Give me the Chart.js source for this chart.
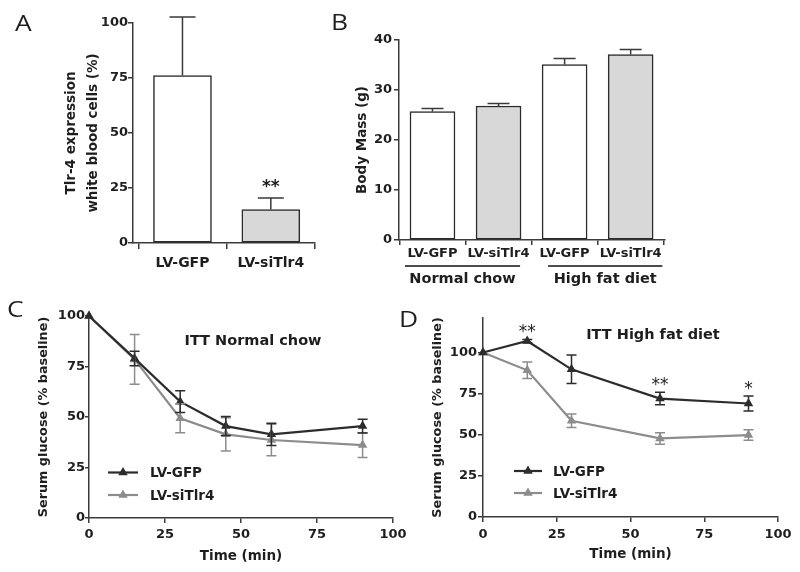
<!DOCTYPE html>
<html>
<head>
<meta charset="utf-8">
<script src="https://cdn.jsdelivr.net/npm/chart.js@4.4.1/dist/chart.umd.min.js"></script>
<style>
  html, body { margin: 0; padding: 0; background: #fff; }
  #wrap { position: relative; width: 800px; height: 572px; background: #fff; overflow: hidden; }
  #wrap canvas { position: absolute; left: 0; top: 0; }
</style>
</head>
<body>
<div id="wrap">
  <canvas id="cA" width="800" height="572"></canvas>
  <canvas id="cB" width="800" height="572"></canvas>
  <canvas id="cC" width="800" height="572"></canvas>
  <canvas id="cD" width="800" height="572"></canvas>
</div>
<script>
// ---------------- DATA ----------------
const aCategories = ['LV-GFP', 'LV-siTlr4'];
const aValues = [76.1, 15.2];
const aErrors = [26.6, 5.3];
const aSig = ['', '**'];

const bCategories = ['LV-GFP', 'LV-siTlr4', 'LV-GFP', 'LV-siTlr4'];
const bGroups = ['Normal chow', 'High fat diet'];
const bValues = [25.7, 26.8, 35.1, 37.1];
const bErrors = [0.6, 0.5, 1.2, 1.0];

const seriesNames = ['LV-GFP', 'LV-siTlr4'];

const cTimes = [0, 15, 30, 45, 60, 90];
const cGFP = [100, 79, 57.6, 45.5, 41.4, 45.5];
const cGFPErr = [0, 3.6, 5.4, 4.7, 5.5, 3.4];
const cSi = [100, 78.5, 49.4, 41.4, 38.6, 36.1];
const cSiErr = [0, 12.3, 7.2, 8.2, 7.8, 6.1];

const dTimes = [0, 15, 30, 60, 90];
const dGFP = [100, 107, 89.8, 72, 69];
const dGFPErr = [0, 1, 8.7, 3.8, 4.6];
const dSi = [100, 89.2, 58.5, 47.8, 49.8];
const dSiErr = [0, 5, 4.1, 3.5, 3.2];
const dSig = ['', '**', '', '**', '*'];

// ---------------- STYLE ----------------
const AX = '#3a3a3a';
const DARK = '#2c2c2c';
const GRAY = '#8c8c8c';
const FONT = 'DejaVu Sans';
const TXT = '#1e1e1e';

function fitY(width) {
  return s => { s.width = width; s.paddingTop = 0; s.paddingBottom = 0; s.paddingLeft = 0; s.paddingRight = 0; };
}
function fitX(height) {
  return s => { s.height = height; s.paddingTop = 0; s.paddingBottom = 0; s.paddingLeft = 0; s.paddingRight = 0; };
}
function axisStyle(tickLen) {
  return {
    grid: { display: true, drawOnChartArea: false, drawTicks: true, tickLength: tickLen, color: AX, lineWidth: 1.5 },
    border: { display: true, color: AX, width: 1.5 }
  };
}
function tickFont(size) { return { family: FONT, size: size, weight: 'bold' }; }

// ---------------- PLUGINS ----------------
function errorBars(sets) {
  return {
    id: 'errbars',
    afterDatasetsDraw(chart) {
      const ctx = chart.ctx, ys = chart.scales.y;
      sets.forEach(set => {
        const meta = chart.getDatasetMeta(set.dataset);
        const vals = chart.data.datasets[set.dataset].data;
        ctx.save();
        ctx.strokeStyle = set.color; ctx.lineWidth = set.width || 1.5;
        meta.data.forEach((el, i) => {
          const e = set.errors[i];
          if (!e) return;
          const v = vals[i].y;
          const top = ys.getPixelForValue(v + e);
          const bot = set.mode === 'up' ? ys.getPixelForValue(v) : ys.getPixelForValue(v - e);
          const x = el.x, c = set.cap / 2;
          ctx.beginPath();
          ctx.moveTo(x, bot); ctx.lineTo(x, top);
          ctx.moveTo(x - c, top); ctx.lineTo(x + c, top);
          if (set.mode !== 'up') { ctx.moveTo(x - c, bot); ctx.lineTo(x + c, bot); }
          ctx.stroke();
        });
        ctx.restore();
      });
    }
  };
}
function stars(dsIndex, sig, errors, font, gap) {
  return {
    id: 'stars',
    afterDatasetsDraw(chart) {
      const ctx = chart.ctx, ys = chart.scales.y;
      const meta = chart.getDatasetMeta(dsIndex);
      const vals = chart.data.datasets[dsIndex].data;
      ctx.save();
      ctx.fillStyle = TXT; ctx.font = font; ctx.textAlign = 'center'; ctx.textBaseline = 'alphabetic';
      meta.data.forEach((el, i) => {
        if (!sig[i]) return;
        const y = ys.getPixelForValue(vals[i].y + (errors[i] || 0)) - gap;
        ctx.fillText(sig[i], el.x, y);
      });
      ctx.restore();
    }
  };
}
function texts(items) {
  return {
    id: 'texts',
    afterDraw(chart) {
      const ctx = chart.ctx;
      items.forEach(it => {
        ctx.save();
        ctx.fillStyle = it.color || TXT;
        ctx.font = it.font;
        ctx.textAlign = it.align || 'left';
        ctx.textBaseline = it.baseline || 'alphabetic';
        ctx.translate(it.x, it.y);
        if (it.sx) ctx.scale(it.sx, 1);
        ctx.fillText(it.text, 0, 0);
        ctx.restore();
      });
    }
  };
}
function triangle(ctx, x, y, r) {
  let rad = 0;
  ctx.beginPath();
  ctx.moveTo(x + Math.sin(rad) * r, y - Math.cos(rad) * r);
  rad += Math.PI * 2 / 3;
  ctx.lineTo(x + Math.sin(rad) * r, y - Math.cos(rad) * r);
  rad += Math.PI * 2 / 3;
  ctx.lineTo(x + Math.sin(rad) * r, y - Math.cos(rad) * r);
  ctx.closePath();
  ctx.fill();
}
function lineLegend(cfg) {
  return {
    id: 'lineLegend',
    afterDraw(chart) {
      const ctx = chart.ctx;
      chart.data.datasets.forEach((ds, i) => {
        const y = cfg.ys[i];
        ctx.save();
        ctx.strokeStyle = ds.borderColor; ctx.fillStyle = ds.borderColor; ctx.lineWidth = 2.2;
        ctx.beginPath(); ctx.moveTo(cfg.x, y); ctx.lineTo(cfg.x + cfg.len, y); ctx.stroke();
        triangle(ctx, cfg.x + cfg.len / 2, y, 5.5);
        ctx.fillStyle = TXT; ctx.font = cfg.font; ctx.textBaseline = 'middle'; ctx.textAlign = 'left';
        ctx.fillText(ds.label, cfg.textX, y + 1);
        ctx.restore();
      });
    }
  };
}
function groupLabels(groups, spans, lineY, textY, font) {
  return {
    id: 'groups',
    afterDraw(chart) {
      const ctx = chart.ctx, xs = chart.scales.x;
      groups.forEach((g, i) => {
        const x0 = xs.getPixelForValue(spans[i][0]);
        const x1 = xs.getPixelForValue(spans[i][1]);
        ctx.save();
        ctx.strokeStyle = '#111'; ctx.lineWidth = 1.5;
        ctx.beginPath(); ctx.moveTo(x0, lineY); ctx.lineTo(x1, lineY); ctx.stroke();
        ctx.fillStyle = TXT; ctx.font = font; ctx.textAlign = 'center'; ctx.textBaseline = 'alphabetic';
        ctx.fillText(g, (x0 + x1) / 2, textY);
        ctx.restore();
      });
    }
  };
}

const baseOpts = {
  responsive: false, animation: false, events: [], devicePixelRatio: 1
};
const noPlug = { legend: { display: false }, tooltip: { enabled: false } };
const letterFont = '22px "Open Sans"';

// ---------------- PANEL A ----------------
new Chart(document.getElementById('cA'), {
  type: 'bar',
  data: {
    datasets: [{
      data: aValues.map((v, i) => ({ x: i, y: v })),
      backgroundColor: ['#ffffff', '#d8d8d8'],
      borderColor: '#2a2a2a', borderWidth: 1.5, borderSkipped: false,
      barThickness: 58
    }]
  },
  options: Object.assign({}, baseOpts, {
    layout: { padding: { left: 0, top: 23, right: 800 - 315, bottom: 0 } },
    plugins: noPlug,
    scales: {
      x: Object.assign({
        type: 'linear', min: -0.56, max: 1.5, offset: false,
        afterBuildTicks: s => { s.ticks = aCategories.map((c, i) => ({ value: i })); },
        ticks: { callback: v => aCategories[v], autoSkip: false, maxRotation: 0, minRotation: 0, font: tickFont(14), color: TXT, padding: 6 },
        afterFit: fitX(572 - 243)
      }, axisStyle(6)),
      y: Object.assign({
        min: 0, max: 100,
        ticks: { stepSize: 25, font: tickFont(13), color: TXT, padding: 0 },
        title: { display: true, text: ['Tlr-4 expression', 'white blood cells (%)'], color: TXT,
                 font: { family: FONT, size: 13.5, weight: 'bold', lineHeight: 1.63 }, padding: { top: 60.7, bottom: 0 } },
        afterFit: fitY(133)
      }, axisStyle(5))
    }
  }),
  plugins: [
    errorBars([{ dataset: 0, errors: aErrors, mode: 'up', color: '#3a3a3a', cap: 26 }]),
    stars(0, aSig, aErrors, 'bold 17px "DejaVu Sans"', 6),
    texts([{ text: 'A', x: 15, y: 31, font: letterFont, sx: 1.2 }])
  ]
});

// ---------------- PANEL B ----------------
new Chart(document.getElementById('cB'), {
  type: 'bar',
  data: {
    datasets: [{
      data: bValues.map((v, i) => ({ x: i, y: v })),
      backgroundColor: ['#ffffff', '#d8d8d8', '#ffffff', '#d8d8d8'],
      borderColor: '#2a2a2a', borderWidth: 1.5, borderSkipped: false,
      barThickness: 45
    }]
  },
  options: Object.assign({}, baseOpts, {
    layout: { padding: { left: 0, top: 40, right: 800 - 665, bottom: 0 } },
    plugins: noPlug,
    scales: {
      x: Object.assign({
        type: 'linear', min: -0.507, max: 3.52, offset: false,
        afterBuildTicks: s => { s.ticks = bCategories.map((c, i) => ({ value: i })); },
        ticks: { callback: v => bCategories[v], autoSkip: false, maxRotation: 0, minRotation: 0, font: tickFont(13), color: TXT, padding: 1 },
        afterFit: fitX(572 - 240)
      }, axisStyle(5)),
      y: Object.assign({
        min: 0, max: 40,
        ticks: { stepSize: 10, font: tickFont(13), color: TXT, padding: 2 },
        title: { display: true, text: 'Body Mass (g)', color: TXT,
                 font: { family: FONT, size: 13.5, weight: 'bold' }, padding: { top: 353.9, bottom: 0 } },
        afterFit: fitY(399)
      }, axisStyle(5))
    }
  }),
  plugins: [
    errorBars([{ dataset: 0, errors: bErrors, mode: 'up', color: '#3a3a3a', cap: 22 }]),
    groupLabels(bGroups, [[-0.417, 1.326], [1.75, 3.48]], 266, 283, 'bold 14.5px "DejaVu Sans"'),
    texts([{ text: 'B', x: 331, y: 30, font: letterFont, sx: 1.2 }])
  ]
});

// ---------------- LINE PANELS ----------------
function lineDatasets(times, gfp, si) {
  return [
    { label: seriesNames[0], data: times.map((t, i) => ({ x: t, y: gfp[i] })), borderColor: DARK, backgroundColor: DARK,
      borderWidth: 2.2, pointStyle: 'triangle', pointRadius: 5.5, pointBorderWidth: 0, tension: 0, clip: false },
    { label: seriesNames[1], data: times.map((t, i) => ({ x: t, y: si[i] })), borderColor: GRAY, backgroundColor: GRAY,
      borderWidth: 2.2, pointStyle: 'triangle', pointRadius: 5.5, pointBorderWidth: 0, tension: 0, clip: false }
  ];
}

// ---------------- PANEL C ----------------
new Chart(document.getElementById('cC'), {
  type: 'line',
  data: { datasets: lineDatasets(cTimes, cGFP, cSi) },
  options: Object.assign({}, baseOpts, {
    layout: { padding: { left: 0, top: 316, right: 800 - 393, bottom: 0 } },
    plugins: noPlug,
    scales: {
      x: Object.assign({
        type: 'linear', min: 0, max: 100,
        ticks: { stepSize: 25, font: tickFont(13), color: TXT, padding: 4, maxRotation: 0 },
        title: { display: true, text: 'Time (min)', color: TXT, font: { family: FONT, size: 13.5, weight: 'bold' }, padding: { top: 0, bottom: 7.9 } },
        afterFit: fitX(572 - 518)
      }, axisStyle(5)),
      y: Object.assign({
        min: 0, max: 100,
        ticks: { stepSize: 25, font: tickFont(13), color: TXT, padding: 0 },
        title: { display: true, text: 'Serum glucose (% baseline)', color: TXT,
                 font: { family: FONT, size: 12.8, weight: 'bold' }, padding: { top: 36.3, bottom: 0 } },
        afterFit: fitY(89)
      }, axisStyle(4))
    }
  }),
  plugins: [
    errorBars([
      { dataset: 1, errors: cSiErr, mode: 'both', color: GRAY, cap: 10 },
      { dataset: 0, errors: cGFPErr, mode: 'both', color: DARK, cap: 10 }
    ]),
    lineLegend({ x: 108, len: 30, ys: [472.5, 495], textX: 150, font: 'bold 13.5px "DejaVu Sans"' }),
    texts([
      { text: 'ITT Normal chow', x: 253, y: 341, font: 'bold 14.5px "DejaVu Sans"', align: 'center', baseline: 'middle' },
      { text: 'C', x: 7, y: 317, font: letterFont, sx: 1.2 }
    ])
  ]
});

// ---------------- PANEL D ----------------
new Chart(document.getElementById('cD'), {
  type: 'line',
  data: { datasets: lineDatasets(dTimes, dGFP, dSi) },
  options: Object.assign({}, baseOpts, {
    layout: { padding: { left: 0, top: 318, right: 800 - 778, bottom: 0 } },
    plugins: noPlug,
    scales: {
      x: Object.assign({
        type: 'linear', min: 0, max: 100,
        ticks: { stepSize: 25, font: tickFont(13), color: TXT, padding: 5, maxRotation: 0 },
        title: { display: true, text: 'Time (min)', color: TXT, font: { family: FONT, size: 13.5, weight: 'bold' }, padding: { top: 0, bottom: 9.9 } },
        afterFit: fitX(572 - 517)
      }, axisStyle(5)),
      y: Object.assign({
        min: 0, max: 121,
        afterBuildTicks: s => { s.ticks = s.ticks.filter(t => t.value <= 100); },
        ticks: { stepSize: 25, font: tickFont(13), color: TXT, padding: 1 },
        title: { display: true, text: 'Serum glucose (% baseline)', color: TXT,
                 font: { family: FONT, size: 12.8, weight: 'bold' }, padding: { top: 430.3, bottom: 0 } },
        afterFit: fitY(483)
      }, axisStyle(5))
    }
  }),
  plugins: [
    errorBars([
      { dataset: 1, errors: dSiErr, mode: 'both', color: GRAY, cap: 10 },
      { dataset: 0, errors: dGFPErr, mode: 'both', color: DARK, cap: 10 }
    ]),
    stars(0, dSig, dGFPErr, '17px "DejaVu Sans"', 2),
    lineLegend({ x: 514, len: 28, ys: [471, 493], textX: 553, font: 'bold 13.5px "DejaVu Sans"' }),
    texts([
      { text: 'ITT High fat diet', x: 653, y: 335, font: 'bold 14.5px "DejaVu Sans"', align: 'center', baseline: 'middle' },
      { text: 'D', x: 399, y: 327, font: letterFont, sx: 1.2 }
    ])
  ]
});
</script>
</body>
</html>
